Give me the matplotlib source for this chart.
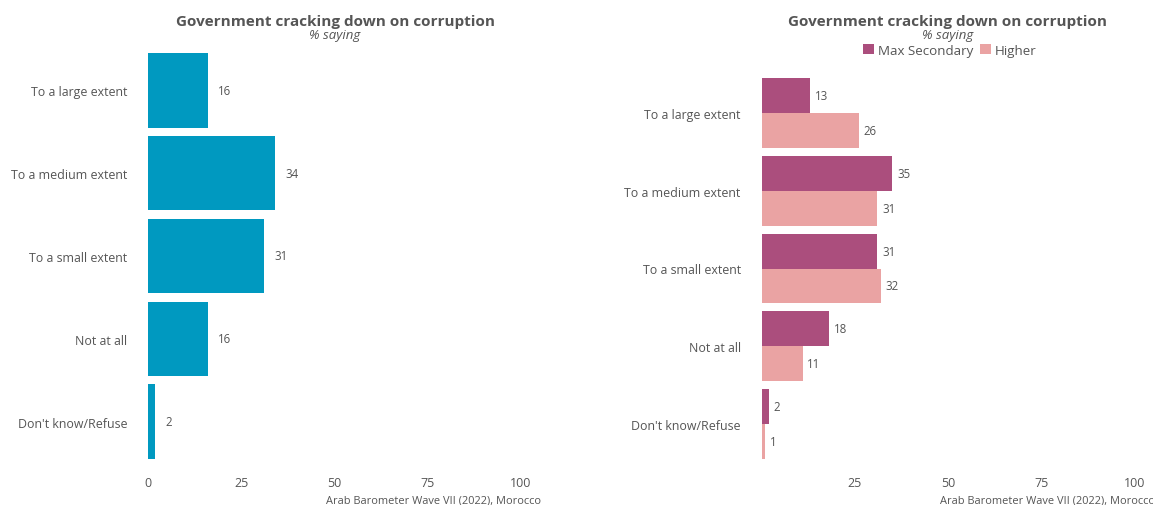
import matplotlib
matplotlib.use('Agg')
import matplotlib.pyplot as plt
import numpy as np

# chart values
categories = ['To a large extent', 'To a medium extent', 'To a small extent',
              'Not at all', "Don't know/Refuse"]
overall = [16, 34, 31, 16, 2]
max_secondary = [13, 35, 31, 18, 2]
higher = [26, 31, 32, 11, 1]
series_names = ['Max Secondary', 'Higher']

title = 'Government cracking down on corruption'
subtitle = '% saying'
source = 'Arab Barometer Wave VII (2022), Morocco'

plt.rcParams['font.family'] = ['Open Sans', 'DejaVu Sans']
txt = '#555555'
blue = '#0099C0'
plum = '#AB4E7D'
pink = '#EAA3A3'

W, H = 1153, 506
fig = plt.figure(figsize=(W / 100, H / 100), dpi=100)


def px_axes(x0, x1, ytop, ybot):
    return fig.add_axes([x0 / W, 1 - ybot / H, (x1 - x0) / W, (ybot - ytop) / H])


def style(ax):
    for s in ax.spines.values():
        s.set_visible(False)
    ax.tick_params(length=0, colors=txt, labelsize=8.9)
    ax.tick_params(axis='y', pad=15)
    ax.tick_params(axis='x', pad=12)
    ax.set_xlim(0, 100)


y = np.arange(len(categories))

# left panel
ax1 = px_axes(148, 521, 54, 460)
ax1.barh(y, overall, height=0.9, color=blue)
for yi, v in zip(y, overall):
    ax1.annotate(str(v), (v, yi), xytext=(7.5, 0), textcoords='offset points',
                 va='center', ha='left', fontsize=8.3, color=txt)
ax1.set_yticks(y, categories)
ax1.set_ylim(len(categories) - 0.55, -0.45)
ax1.set_xticks([0, 25, 50, 75, 100])
style(ax1)
fig.text(335 / W, 1 - 22 / H, title, ha='center', va='center',
         fontsize=11, fontweight='bold', color=txt)
fig.text(335 / W, 1 - 35 / H, subtitle, ha='center', va='center',
         fontsize=9.5, style='italic', color=txt)
fig.text(541 / W, 1 - 501 / H, source, ha='right', va='center',
         fontsize=7.9, color=txt)

# right panel
ax2 = px_axes(761.5, 1135, 79, 460)
h = 0.45
b1 = ax2.barh(y - h / 2, max_secondary, height=h, color=plum, label=series_names[0])
b2 = ax2.barh(y + h / 2, higher, height=h, color=pink, label=series_names[1])
for yi, v in zip(y, max_secondary):
    ax2.annotate(str(v), (v, yi - h / 2), xytext=(3.5, 0), textcoords='offset points',
                 va='center', ha='left', fontsize=8.3, color=txt)
for yi, v in zip(y, higher):
    ax2.annotate(str(v), (v, yi + h / 2), xytext=(3.5, 0), textcoords='offset points',
                 va='center', ha='left', fontsize=8.3, color=txt)
ax2.set_yticks(y, categories)
ax2.set_ylim(len(categories) - 0.55, -0.45)
ax2.set_xticks([25, 50, 75, 100])
style(ax2)
fig.text(948 / W, 1 - 22 / H, title, ha='center', va='center',
         fontsize=11, fontweight='bold', color=txt)
fig.text(948 / W, 1 - 35 / H, subtitle, ha='center', va='center',
         fontsize=9.5, style='italic', color=txt)
fig.legend(handles=[b1, b2], loc='center', bbox_to_anchor=(950 / W, 1 - 51 / H),
           ncol=2, frameon=False, fontsize=9.6, handlelength=0.8, handleheight=0.8,
           handletextpad=0.3, columnspacing=0.5, labelcolor=txt)
fig.text(1155 / W, 1 - 501 / H, source, ha='right', va='center',
         fontsize=7.9, color=txt)

fig.savefig('out.png', dpi=100)
